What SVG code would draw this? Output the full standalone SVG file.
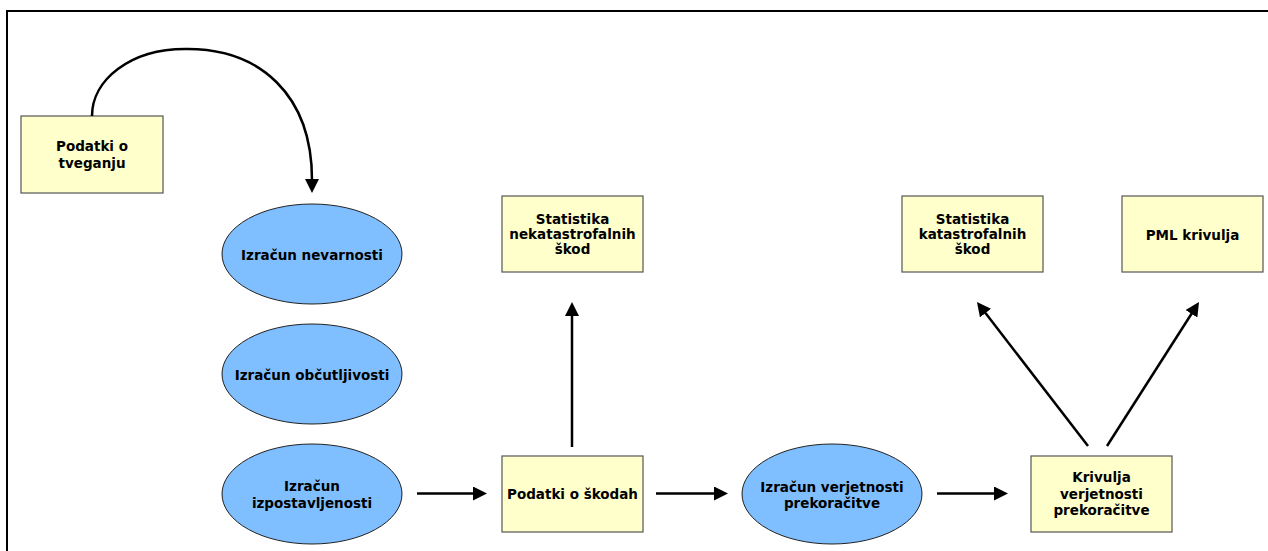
<svg xmlns="http://www.w3.org/2000/svg" width="1268" height="551" viewBox="0 0 1268 551">
<style>
.box{fill:#FFFFCC;stroke:#555555;stroke-width:1.2}
.ell{fill:#80BFFF;stroke:#222222;stroke-width:1}
.t{font-family:"DejaVu Sans",Verdana,sans-serif;font-weight:bold;font-size:13.5px;fill:#000;text-anchor:middle}
.c{fill:none;stroke:#000;stroke-width:2.5}
</style>
<defs>
<marker id="ah" markerUnits="userSpaceOnUse" markerWidth="14" markerHeight="14" refX="1" refY="7" orient="auto">
<path d="M0,0 L14,7 L0,14 z" fill="#000"/>
</marker>
</defs>
<rect width="1268" height="551" fill="#fff"/>
<path d="M7,551 V11 H1268" fill="none" stroke="#000" stroke-width="2"/>

<g id="podatki-tveganje">
<rect class="box" x="21" y="116" width="142" height="77"/>
<text class="t" x="92" y="151">Podatki o</text>
<text class="t" x="92" y="167.5">tveganju</text>
</g>
<g id="izracun-nevarnosti">
<ellipse class="ell" cx="312" cy="254" rx="90" ry="50"/>
<text class="t" x="312" y="260">Izračun nevarnosti</text>
</g>
<g id="izracun-obcutljivosti">
<ellipse class="ell" cx="312" cy="374" rx="90" ry="50"/>
<text class="t" x="312" y="380">Izračun občutljivosti</text>
</g>
<g id="izracun-izpostavljenosti">
<ellipse class="ell" cx="312" cy="494" rx="90" ry="50"/>
<text class="t" x="312" y="491">Izračun</text>
<text class="t" x="312" y="507.5">izpostavljenosti</text>
</g>
<g id="statistika-nekatastrofalnih">
<rect class="box" x="502" y="196" width="141" height="76"/>
<text class="t" x="572.5" y="224">Statistika</text>
<text class="t" x="572.5" y="239">nekatastrofalnih</text>
<text class="t" x="572.5" y="254">škod</text>
</g>
<g id="podatki-skode">
<rect class="box" x="502" y="456" width="141" height="76"/>
<text class="t" x="572.5" y="499">Podatki o škodah</text>
</g>
<g id="izracun-verjetnosti">
<ellipse class="ell" cx="832" cy="494" rx="90" ry="50"/>
<text class="t" x="832" y="491.5">Izračun verjetnosti</text>
<text class="t" x="832" y="508">prekoračitve</text>
</g>
<g id="krivulja-verjetnosti">
<rect class="box" x="1031" y="456" width="141" height="76"/>
<text class="t" x="1101.5" y="482">Krivulja</text>
<text class="t" x="1101.5" y="498.5">verjetnosti</text>
<text class="t" x="1101.5" y="515">prekoračitve</text>
</g>
<g id="statistika-katastrofalnih">
<rect class="box" x="902" y="196" width="141" height="76"/>
<text class="t" x="972.5" y="224">Statistika</text>
<text class="t" x="972.5" y="239">katastrofalnih</text>
<text class="t" x="972.5" y="254">škod</text>
</g>
<g id="pml-krivulja">
<rect class="box" x="1122" y="196" width="141" height="76"/>
<text class="t" x="1192.5" y="240">PML krivulja</text>
</g>

<g id="connectors">
<path class="c" d="M92,116 C92,80 130,49 185,49 C260,48 312,95 312,180" marker-end="url(#ah)"/>
<line class="c" x1="417" y1="493.5" x2="474" y2="493.5" marker-end="url(#ah)"/>
<line class="c" x1="572" y1="447" x2="572" y2="315" marker-end="url(#ah)"/>
<line class="c" x1="656" y1="493.5" x2="715" y2="493.5" marker-end="url(#ah)"/>
<line class="c" x1="937" y1="493.5" x2="995" y2="493.5" marker-end="url(#ah)"/>
<line class="c" x1="1088" y1="446" x2="984.9" y2="312.3" marker-end="url(#ah)"/>
<line class="c" x1="1107" y1="446" x2="1192" y2="313" marker-end="url(#ah)"/>
</g>
</svg>
